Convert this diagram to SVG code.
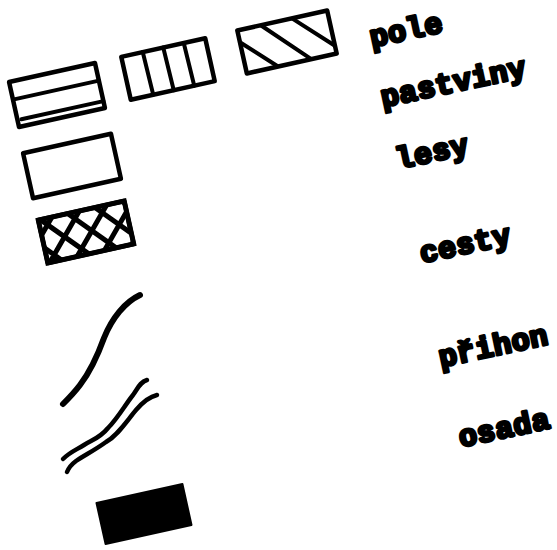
<svg xmlns="http://www.w3.org/2000/svg" width="557" height="550" viewBox="0 0 557 550">
<style>
.box{fill:#fff;stroke:#000;stroke-width:4.5;stroke-linejoin:round}
.ln{fill:none;stroke:#000;stroke-width:4;stroke-linecap:round}
.cv{fill:none;stroke:#000;stroke-width:6;stroke-linecap:round;stroke-linejoin:round}
.cv2{fill:none;stroke:#000;stroke-width:4.5;stroke-linecap:round;stroke-linejoin:round}
.lbl{font-family:"Liberation Mono","DejaVu Sans Mono",monospace;font-weight:bold;font-size:30px;letter-spacing:0.5px;fill:#000;stroke:#000;stroke-width:3;stroke-linejoin:round}
</style>
<defs>
<clipPath id="c5"><rect x="-44" y="-22" width="88" height="44"/></clipPath>
<clipPath id="c3"><rect x="-46" y="-22" width="92" height="44"/></clipPath>
</defs>
<rect width="557" height="550" fill="#fff"/>
<g id="sym-pole" transform="translate(57,95) rotate(-12.5)">
<rect class="box" x="-44" y="-23" width="88" height="46"/>
<line class="ln" x1="-44" y1="-5" x2="44" y2="-5"/>
<line class="ln" x1="-40" y1="16" x2="44" y2="16" stroke-width="3"/>
</g>
<g id="sym-pastviny" transform="translate(168,69) rotate(-12.5)">
<rect class="box" x="-43" y="-22" width="86" height="44"/>
<line class="ln" x1="-21" y1="-22" x2="-20" y2="22"/>
<line class="ln" x1="0" y1="-22" x2="1" y2="22"/>
<line class="ln" x1="21" y1="-22" x2="22" y2="22"/>
</g>
<g id="sym-hatch" transform="translate(287,42) rotate(-12.5)">
<rect class="box" x="-46" y="-22" width="92" height="44"/>
<g clip-path="url(#c3)">
<line class="ln" x1="-46" y1="-10" x2="-14" y2="22"/>
<line class="ln" x1="-22" y1="-22" x2="20" y2="22"/>
<line class="ln" x1="10" y1="-22" x2="46" y2="14"/>
</g>
</g>
<g id="sym-lesy" transform="translate(72,166) rotate(-12.5)">
<rect class="box" x="-45" y="-23" width="90" height="46"/>
</g>
<g id="sym-cesty" transform="translate(86,232) rotate(-12.5)">
<rect class="box" x="-44" y="-22" width="88" height="44"/>
<g clip-path="url(#c5)">
<path fill="none" stroke="#000" stroke-width="5" d="M-70,-22 L-30,22 M-42,-22 L-2,22 M-14,-22 L26,22 M14,-22 L54,22 M42,-22 L82,22 M-70,22 L-30,-22 M-42,22 L-2,-22 M-14,22 L26,-22 M14,22 L54,-22 M42,22 L82,-22 M-98,22 L-58,-22"/>
</g>
<rect x="-44" y="-22" width="88" height="44" fill="none" stroke="#000" stroke-width="5"/>
</g>
<g id="sym-prihon">
<path class="cv" d="M140,295 C125,302 112,318 104,338 C96,360 90,372 80,385 C74,393 68,399 63,404"/>
</g>
<g id="sym-double">
<path class="cv2" d="M147,380 C140,382 138,388 133,395 C125,405 118,418 108,428 C100,438 92,440 84,445 C76,450 70,452 63,459"/>
<path class="cv2" d="M157,395 C148,397 142,403 136,410 C126,422 118,435 106,442 C95,450 85,455 76,461 C72,464 69,467 67,472"/>
</g>
<g id="sym-osada" transform="translate(144,514) rotate(-12.5)">
<rect x="-44" y="-21" width="88" height="42" fill="#000" stroke="#000" stroke-width="2" stroke-linejoin="round"/>
</g>
<g id="labels">
<text class="lbl" transform="translate(372,47) rotate(-12)">pole</text>
<text class="lbl" transform="translate(383,107) rotate(-12)">pastviny</text>
<text class="lbl" transform="translate(398,169) rotate(-12)">lesy</text>
<text class="lbl" transform="translate(422,263) rotate(-12)">cesty</text>
<text class="lbl" transform="translate(441,367) rotate(-12)">přihon</text>
<text class="lbl" transform="translate(461,447) rotate(-12)">osada</text>
</g>
</svg>
